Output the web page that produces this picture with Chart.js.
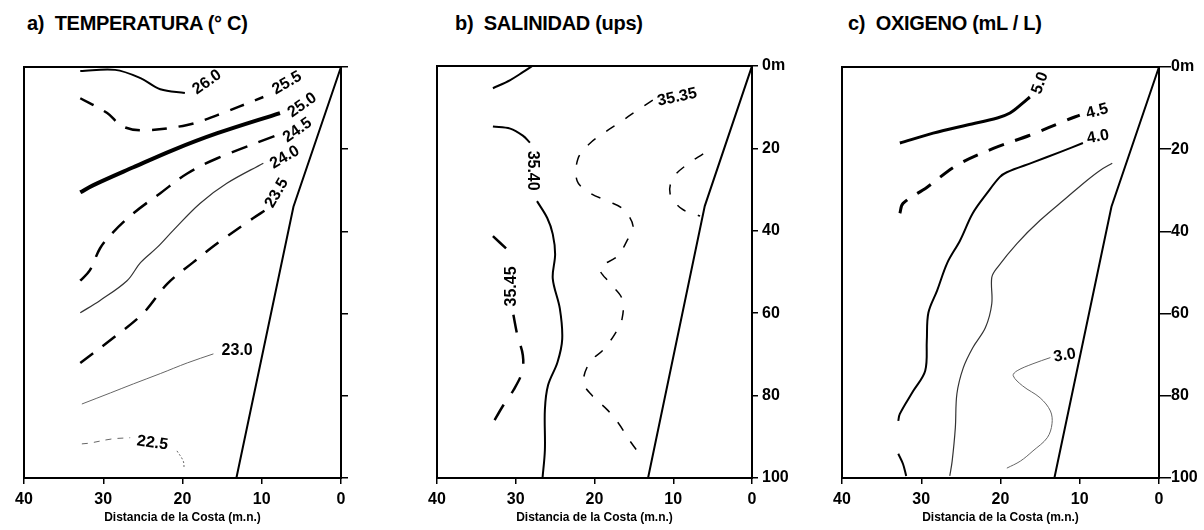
<!DOCTYPE html>
<html>
<head>
<meta charset="utf-8">
<script src="https://cdn.jsdelivr.net/npm/chart.js@4.4.1/dist/chart.umd.min.js"></script>
<style>
  body { margin: 0; background: #fff; width: 1204px; height: 530px; position: relative; overflow: hidden; }
  .panel { position: absolute; top: 0; }
  .titulo { position: absolute; top: 12px; font: bold 20px 'Liberation Sans', Arial, sans-serif; color: #000; white-space: nowrap; letter-spacing: -0.3px; }
</style>
</head>
<body>
<div class="titulo" style="left:27px">a)&nbsp; TEMPERATURA (° C)</div>
<div class="titulo" style="left:455px">b)&nbsp; SALINIDAD (ups)</div>
<div class="titulo" style="left:848px">c)&nbsp; OXIGENO (mL / L)</div>

<div class="panel" style="left:0px"><canvas id="chartTemp" width="400" height="530"></canvas></div>
<div class="panel" style="left:400px"><canvas id="chartSal" width="400" height="530"></canvas></div>
<div class="panel" style="left:800px"><canvas id="chartOxi" width="404" height="530"></canvas></div>

<script>
// ===== DATOS: [distancia (m.n.), profundidad (m)] =====
const distTicks = [40, 30, 20, 10, 0];
const profTicks = [0, 20, 40, 60, 80, 100];

// perfil de la costa
const costaDist = [0, 6, 13.2];
const costaProf = [0, 34, 100];

// a) temperatura
const temp260 = [[32.9,1],[28.5,0.7],[25.3,2.7],[22.8,5.4],[19.7,6.3]];
const temp255 = [[32.9,7.6],[29.5,11.2],[27.6,14.4],[25,15.4],[19.4,14.1],[15.6,11.7],[9.8,7.3]];
const temp250 = [[32.9,30.5],[31.3,28.8],[26.2,24.4],[21.2,20.2],[15.6,16.1],[7.7,11.2]];
const temp245 = [[32.9,52],[31.7,49.5],[30.4,44.1],[28.9,40.5],[26.2,35.6],[22.8,30.7],[19.4,25.9],[15.6,22.2],[8.1,16.6]];
const temp240 = [[32.9,59.8],[30.4,56.8],[27,52],[25.3,47.6],[23.2,43.9],[21.2,39.8],[17.8,33.2],[14.4,28.3],[9.8,23.4]];
const temp235 = [[32.9,72],[28.8,66],[25,60],[21.9,52.7],[18.7,47.6],[15.6,42.9],[11.1,36.8],[9.6,34.9]];
const temp230 = [[32.7,82],[29.1,79.3],[26.2,77.1],[22.8,74.6],[19.4,72],[16.1,69.8]];
const temp225a = [[32.7,91.7],[31.7,91.5],[28.9,90.5],[26.6,90.2]];
const temp225b = [[20.7,93.4],[19.9,95.9],[19.8,97.8]];
const tempEtiquetas = [['26.0',16.9,3.7],['25.5',6.8,3.9],['25.0',4.9,9.3],['24.5',5.5,15.4],['24.0',7.1,22],['23.5',8.1,30.7],['23.0',13.1,69],['22.5',23.8,91.5]];

// b) salinidad
const sal340sup = [[32.9,5.4],[30.7,3.4],[29.1,1.5],[27.9,0]];
const sal340a = [[32.9,14.7],[30.7,15.2],[29.1,16.9],[28.2,18.6]];
const sal340b = [[27.3,32.8],[26,36.9],[25.3,40.8],[25,45.7],[25.3,51.6],[24.4,58.9],[24.1,66.3],[24.7,71.9],[25.9,77.5],[26.3,83.4],[26.3,93.2],[26.6,100]];
const sal345a = [[32.9,41.3],[31.1,44.5]];
const sal345b = [[30.3,60.4],[29.8,65.3],[29.1,70.2],[29.2,74.3],[30.3,78.7],[31.6,82.4],[33,87]];
const sal335 = [[12.6,8.3],[14.6,10.8],[16.8,13.7],[18.7,16.1],[20.6,18.8],[22.1,22.5],[22.2,27.9],[20.6,30.8],[18.3,32.8],[16.4,34.7],[15.1,38.9],[15.9,42.5],[17.1,46.2],[19.3,49.1],[18,52.8],[16.5,56.5],[16.5,61.4],[17.4,65],[18.9,68.9],[20.6,71.9],[21.4,76.8],[20.3,80],[18.4,83.4],[17,86.6],[15.5,91],[14.2,94.4]];
const sal335r = [[6.2,21.3],[8.1,23.7],[10,27.1],[10.4,31],[8.9,34.7],[6.6,36.4]];
const salEtiquetas = [['35.35',9.5,7.6],['35.40',27.9,25.4],['35.45',30.5,53.5]];

// c) oxigeno
const oxi50 = [[32.7,18.5],[28.5,16.1],[24.2,14.1],[20.4,12.4],[18.8,11.2],[17.2,8.8],[16.3,7.3]];
const oxi45 = [[32.7,35.6],[32.3,33.2],[29.3,29.3],[25.5,23.9],[20.9,19.8],[16.3,16.6],[11.6,12.9],[10,11.7]];
const oxi40 = [[9.6,18.5],[12.5,20.7],[15.9,23.2],[19.2,25.6],[20.1,26.8],[21.7,30.7],[23.5,35.6],[25.1,42.2],[26.7,47.6],[28,54.4],[29.1,59.8],[29.3,66.6],[29.5,73.9],[31,78.8],[32.7,84.4],[32.9,86.1]];
const oxi40b = [[32.9,94.1],[32.3,96.6],[31.9,99.5]];
const oxi35 = [[5.9,23.4],[7.4,25.1],[9.1,27.6],[11.6,31.7],[15,37.3],[17.9,42.9],[20.4,48.8],[21.1,51.2],[21.1,57.6],[21.9,63.4],[23.5,68.3],[24.7,73.2],[25.5,79.5],[25.7,87.8],[26.1,95.9],[26.4,99.5]];
const oxi30 = [[13.7,70.7],[15.9,72.2],[17.9,73.9],[18.4,75.1],[17.2,77.6],[15,80.5],[13.7,83.7],[13.5,86.8],[14.1,90.2],[15.9,93.4],[17.5,95.9],[19.2,97.6]];
const oxiEtiquetas = [['5.0',15,3.9],['4.5',7.8,10.8],['4.0',7.7,17],['3.0',11.9,70.2]];

// ===== ESTILO =====
const FUENTE = "'Liberation Sans', Arial, sans-serif";

function linea(pts, ancho, guion, color, tension) {
    return {
        data: pts.map(p => ({ x: p[0], y: p[1] })),
        showLine: true,
        borderColor: color || '#000',
        borderWidth: ancho,
        borderDash: guion || [],
        pointRadius: 0,
        tension: tension === undefined ? 0.35 : tension,
        fill: false
    };
}

function costa() {
    return linea(costaDist.map((d, i) => [d, costaProf[i]]), 2, [], '#000', 0);
}

// recuadro del area de grafico
const marcoPlugin = {
    id: 'marco',
    afterDraw(chart) {
        const a = chart.chartArea, ctx = chart.ctx;
        ctx.save();
        ctx.strokeStyle = '#000';
        ctx.lineWidth = 2;
        ctx.strokeRect(a.left, a.top, a.right - a.left, a.bottom - a.top);
        ctx.restore();
    }
};

// etiquetas de las isolineas
const etiquetasPlugin = {
    id: 'etiquetas',
    afterDatasetsDraw(chart, args, opts) {
        const ctx = chart.ctx, x = chart.scales.x, y = chart.scales.y;
        ctx.save();
        ctx.font = 'bold ' + opts.size + 'px ' + FUENTE;
        ctx.fillStyle = '#000';
        ctx.textAlign = 'center';
        ctx.textBaseline = 'middle';
        opts.items.forEach((it, i) => {
            ctx.save();
            ctx.translate(x.getPixelForValue(it[1]), y.getPixelForValue(it[2]));
            ctx.rotate((opts.angulos[i] || 0) * Math.PI / 180);
            ctx.fillText(it[0], 0, 0);
            ctx.restore();
        });
        ctx.restore();
    }
};

function opciones(pad, anchoY, tickY, padY, conEtiquetasY, etiquetas, angulos) {
    return {
        responsive: false,
        animation: false,
        layout: { padding: pad },
        plugins: {
            legend: { display: false },
            tooltip: { enabled: false },
            etiquetas: { items: etiquetas, angulos: angulos, size: 16 }
        },
        scales: {
            x: {
                type: 'linear',
                min: 0, max: 40, reverse: true,
                afterBuildTicks: s => { s.ticks = distTicks.map(v => ({ value: v })); },
                ticks: { color: '#000', font: { family: FUENTE, size: 16, weight: 'bold' }, padding: 6, maxRotation: 0 },
                grid: { drawOnChartArea: false, tickLength: 6, color: '#000', lineWidth: 1.5 },
                border: { color: '#000', width: 2 },
                title: {
                    display: true, text: 'Distancia de la Costa (m.n.)', color: '#000',
                    font: { family: FUENTE, size: 12, weight: 'bold' }, padding: { top: 4, bottom: 5 }
                },
                afterFit: s => { s.height = 52; }
            },
            y: {
                type: 'linear', position: 'right',
                min: 0, max: 100, reverse: true,
                afterBuildTicks: s => { s.ticks = profTicks.map(v => ({ value: v })); },
                ticks: {
                    display: conEtiquetasY, color: '#000', padding: padY,
                    font: { family: FUENTE, size: 16, weight: 'bold' },
                    callback: v => v === 0 ? '0m' : v
                },
                grid: { drawOnChartArea: false, tickLength: tickY, color: '#000', lineWidth: 1.5 },
                border: { color: '#000', width: 2 },
                afterFit: s => { s.width = anchoY; }
            }
        }
    };
}

// ===== a) TEMPERATURA =====
new Chart(document.getElementById('chartTemp'), {
    type: 'scatter',
    data: {
        datasets: [
            linea(temp260, 2),
            linea(temp255, 2.5, [15, 12]),
            linea(temp250, 4),
            linea(temp245, 2.5, [17, 12]),
            linea(temp240, 1.2, [], '#333'),
            linea(temp235, 2.5, [16, 12]),
            linea(temp230, 1, [], '#666'),
            linea(temp225a, 1, [6, 6], '#666'),
            linea(temp225b, 1, [2, 2], '#666'),
            costa()
        ]
    },
    options: opciones({ left: 24, right: 51, top: 67, bottom: 0 }, 8, 7, 0, false,
        tempEtiquetas, [-35, -30, -35, -35, -30, -60, 0, 8]),
    plugins: [marcoPlugin, etiquetasPlugin]
});

// ===== b) SALINIDAD =====
new Chart(document.getElementById('chartSal'), {
    type: 'scatter',
    data: {
        datasets: [
            linea(sal340sup, 2),
            linea(sal340a, 2),
            linea(sal340b, 2),
            linea(sal345a, 2.5, [18, 14]),
            linea(sal345b, 2.5, [18, 14]),
            linea(sal335, 1.5, [10, 13]),
            linea(sal335r, 1.5, [10, 13]),
            costa()
        ]
    },
    options: opciones({ left: 37, right: 8, top: 66, bottom: 0 }, 40, 6, 4, true,
        salEtiquetas, [-12, 90, -90]),
    plugins: [marcoPlugin, etiquetasPlugin]
});

// ===== c) OXIGENO =====
new Chart(document.getElementById('chartOxi'), {
    type: 'scatter',
    data: {
        datasets: [
            linea(oxi50, 3),
            linea(oxi45, 3, [16, 12]),
            linea(oxi40, 2),
            linea(oxi40b, 2),
            linea(oxi35, 1.2, [], '#333'),
            linea(oxi30, 1, [], '#666'),
            costa()
        ]
    },
    options: opciones({ left: 42, right: 5, top: 67, bottom: 0 }, 40, 12, 0, true,
        oxiEtiquetas, [-70, -15, -10, -10]),
    plugins: [marcoPlugin, etiquetasPlugin]
});
</script>
</body>
</html>
